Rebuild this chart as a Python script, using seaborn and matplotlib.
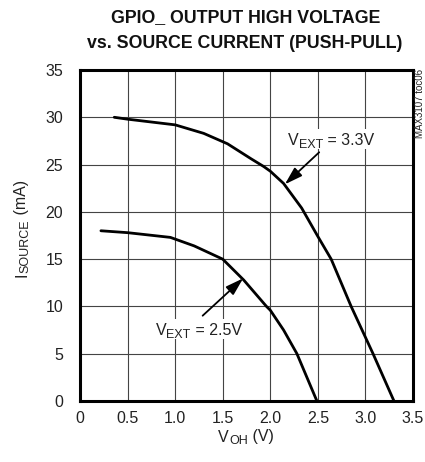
import matplotlib
matplotlib.use("Agg")
import matplotlib.pyplot as plt
from matplotlib.patches import Rectangle
import seaborn as sns
import pandas as pd

# ---- data ----
v_ext33 = [0.36, 0.5, 1.0, 1.3, 1.55, 1.8, 1.93, 2.0, 2.14, 2.33, 2.5, 2.64, 2.85, 3.08, 3.30]
i_ext33 = [30.0, 29.8, 29.2, 28.3, 27.2, 25.6, 24.8, 24.3, 23.0, 20.4, 17.4, 15.0, 10.0, 5.0, 0.0]

v_ext25 = [0.22, 0.5, 0.95, 1.2, 1.5, 1.72, 1.96, 2.0, 2.14, 2.28, 2.49]
i_ext25 = [18.0, 17.8, 17.3, 16.4, 15.0, 12.8, 10.0, 9.6, 7.5, 5.0, 0.0]

x_ticks = [0, 0.5, 1.0, 1.5, 2.0, 2.5, 3.0, 3.5]
x_tick_labels = ["0", "0.5", "1.0", "1.5", "2.0", "2.5", "3.0", "3.5"]
y_ticks = [0, 5, 10, 15, 20, 25, 30, 35]
y_tick_labels = ["0", "5", "10", "15", "20", "25", "30", "35"]

title_lines = ["GPIO_ OUTPUT HIGH VOLTAGE", "vs. SOURCE CURRENT (PUSH-PULL)"]
label_33 = [("V", False), ("EXT", True), (" = 3.3V", False)]
label_25 = [("V", False), ("EXT", True), (" = 2.5V", False)]
xlabel = [("V", False), ("OH", True), (" (V)", False)]
ylabel = [("I", False), ("SOURCE", True), (" (mA)", False)]
side_note = "MAX3107 toc06"

df = pd.concat([
    pd.DataFrame({"V": v_ext33, "I": i_ext33, "curve": "3.3V"}),
    pd.DataFrame({"V": v_ext25, "I": i_ext25, "curve": "2.5V"}),
], ignore_index=True)

sns.set_theme(style="white")
plt.rcParams["font.family"] = ["Liberation Sans", "DejaVu Sans"]

W, H = 425, 462
fig = plt.figure(figsize=(W / 100, H / 100), dpi=100)
ax = fig.add_axes([80 / W, 1 - 401 / H, 333 / W, 331 / H])

sns.lineplot(data=df, x="V", y="I", units="curve", estimator=None, sort=False,
             color="black", linewidth=2.0, ax=ax, legend=False)

ax.set_xlim(0, 3.5)
ax.set_ylim(0, 35)
ax.set_xticks(x_ticks)
ax.set_xticklabels(x_tick_labels)
ax.set_yticks(y_ticks)
ax.set_yticklabels(y_tick_labels)
ax.tick_params(axis="both", length=0, labelsize=11.5, colors="#222222")
ax.tick_params(axis="x", pad=7)
ax.tick_params(axis="y", pad=12)
ax.grid(True, color="#444444", linewidth=0.8)
for s in ax.spines.values():
    s.set_visible(True)
    s.set_color("black")
    s.set_linewidth(2.2)
ax.set_xlabel("")
ax.set_ylabel("")

fig.text(0.578, 1 - 18 / H, title_lines[0], ha="center", va="center",
         fontsize=12.8, fontweight="bold", color="#111111")
fig.text(0.576, 1 - 44 / H, title_lines[1], ha="center", va="center",
         fontsize=12.8, fontweight="bold", color="#111111")

renderer = fig.canvas.get_renderer()


def rich_text(cx, base_y, parts, size, rotation=0, sub_scale=0.78, sub_drop=2.5,
              white_box=False):
    """cx / base_y in pixels from the top-left; text centred along its run."""
    sizes = [size * sub_scale if sub else size for _, sub in parts]
    widths = []
    for (s, sub), fs in zip(parts, sizes):
        probe = fig.text(0, 0, "|" + s + "|", fontsize=fs)
        bar = fig.text(0, 0, "||", fontsize=fs)
        w = probe.get_window_extent(renderer).width - bar.get_window_extent(renderer).width
        probe.remove()
        bar.remove()
        widths.append(w)
    total = sum(widths)
    by = H - base_y
    if white_box:
        fig.add_artist(Rectangle(((cx - total / 2 - 3) / W, (by - 4) / H),
                                 (total + 6) / W, (size * 1.389 * 0.72 + 8) / H,
                                 transform=fig.transFigure, facecolor="white",
                                 edgecolor="none", zorder=1))
    pos = -total / 2
    for (s, sub), fs, w in zip(parts, sizes, widths):
        drop = sub_drop if sub else 0
        if rotation == 0:
            x, y = cx + pos, by - drop
        else:
            x, y = cx + drop, by + pos
        fig.text(x / W, y / H, s, fontsize=fs, rotation=rotation,
                 rotation_mode="anchor", ha="left", va="baseline",
                 color="#222222", zorder=3)
        pos += w


rich_text(246, 441.5, xlabel, 11.5)
rich_text(26, 228.5, ylabel, 11.5, rotation=90)
rich_text(331, 145, label_33, 11.5, white_box=True)
rich_text(198.7, 335, label_25, 11.5, white_box=True)

arrow_kw = dict(arrowstyle="-|>,head_length=0.9,head_width=0.28", color="black",
                lw=1.3, shrinkA=0, shrinkB=0)
ax.annotate("", xy=(2.153, 22.91), xytext=(2.514, 26.30), arrowprops=arrow_kw)
ax.annotate("", xy=(1.715, 12.97), xytext=(1.289, 9.02), arrowprops=arrow_kw)

fig.text(420 / W, 1 - 103 / H, side_note, rotation=90, ha="center",
         va="center", fontsize=7, color="#222222")

fig.savefig("out.png", dpi=100)
